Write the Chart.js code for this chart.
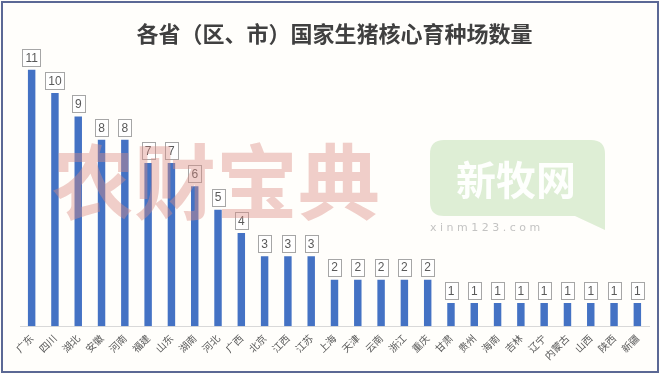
<!DOCTYPE html>
<html>
<head>
<meta charset="utf-8">
<script src="https://cdn.jsdelivr.net/npm/chart.js@4/dist/chart.umd.min.js"></script>
<style>
  html, body { margin: 0; padding: 0; background: #ffffff; }
  #wrap { width: 660px; height: 374px; }
</style>
</head>
<body>
<div id="wrap"><canvas id="breedingChart" width="660" height="374"></canvas></div>
<script>
/* ---- data ---- */
const provinces = ["广东", "四川", "湖北", "安徽", "河南", "福建", "山东", "湖南", "河北", "广西",
    "北京", "江西", "江苏", "上海", "天津", "云南", "浙江", "重庆", "甘肃", "贵州",
    "海南", "吉林", "辽宁", "内蒙古", "山西", "陕西", "新疆"];
const farmCounts = [11, 10, 9, 8, 8, 7, 7, 6, 5, 4, 3, 3, 3, 2, 2, 2, 2, 2, 1, 1, 1, 1, 1, 1, 1, 1, 1];
const chartTitle = "各省（区、市）国家生猪核心育种场数量";

const CJK = "'Noto Sans CJK SC', 'Noto Sans', sans-serif";

// frame + light background behind everything
const framePlugin = {
    id: "frame",
    beforeDraw(chart) {
        const ctx = chart.ctx;
        ctx.save();
        ctx.fillStyle = "#fffefb";
        ctx.fillRect(0, 0, chart.width, chart.height);
        ctx.restore();
    },
    afterDraw(chart) {
        const ctx = chart.ctx;
        ctx.save();
        ctx.strokeStyle = "#5b6895";
        ctx.lineWidth = 2;
        ctx.strokeRect(2, 2, chart.width - 4, chart.height - 4);
        ctx.restore();
    }
};

// boxed value labels above each bar
const boxedLabels = {
    id: "boxedLabels",
    afterDatasetsDraw(chart) {
        const ctx = chart.ctx;
        const meta = chart.getDatasetMeta(0);
        ctx.save();
        ctx.font = "12px 'Liberation Sans', Arial, sans-serif";
        ctx.textAlign = "center";
        ctx.textBaseline = "middle";
        meta.data.forEach((bar, i) => {
            const txt = String(farmCounts[i]);
            const w = ctx.measureText(txt).width + 6;
            const h = 17;
            const x = bar.x;
            const bottom = bar.y - 4;
            ctx.fillStyle = "#ffffff";
            ctx.fillRect(x - w / 2, bottom - h, w, h);
            ctx.strokeStyle = "#a6a6a6";
            ctx.lineWidth = 1;
            ctx.strokeRect(Math.round(x - w / 2) + 0.5, Math.round(bottom - h) + 0.5, Math.round(w), h);
            ctx.fillStyle = "#595959";
            ctx.fillText(txt, x, bottom - h / 2 + 1);
        });
        ctx.restore();
    }
};

// the two watermarks that sit over the plot
const watermarks = {
    id: "watermarks",
    afterDatasetsDraw(chart) {
        const ctx = chart.ctx;
        ctx.save();
        // 农财宝典
        ctx.font = "bold 82px " + CJK;
        ctx.textAlign = "left";
        ctx.textBaseline = "middle";
        ctx.fillStyle = "rgba(220, 140, 130, 0.42)";
        ctx.fillText("农财宝典", 52, 182);

        // 新牧网 bubble
        ctx.fillStyle = "rgba(200, 226, 188, 0.6)";
        const x0 = 430, y0 = 140, x1 = 605, y1 = 216, r = 14;
        ctx.beginPath();
        ctx.moveTo(x0 + r, y0);
        ctx.lineTo(x1 - r, y0);
        ctx.quadraticCurveTo(x1, y0, x1, y0 + r);
        ctx.lineTo(x1, 230);
        ctx.lineTo(575, y1);
        ctx.lineTo(x0 + r, y1);
        ctx.quadraticCurveTo(x0, y1, x0, y1 - r);
        ctx.lineTo(x0, y0 + r);
        ctx.quadraticCurveTo(x0, y0, x0 + r, y0);
        ctx.closePath();
        ctx.fill();

        ctx.fillStyle = "rgba(255, 255, 255, 0.95)";
        ctx.font = "bold 40px " + CJK;
        ctx.textAlign = "center";
        ctx.fillText("新牧网", 516, 180);

        ctx.fillStyle = "rgba(180, 180, 180, 0.8)";
        ctx.font = "11px 'DejaVu Sans', sans-serif";
        ctx.textAlign = "left";
        ctx.fillText("x i n m 1 2 3 . c o m", 430, 228);
        ctx.restore();
    }
};

const chart = new Chart(document.getElementById("breedingChart"), {
    type: "bar",
    data: {
        labels: provinces,
        datasets: [{
            data: farmCounts,
            backgroundColor: "#4472c4",
            barPercentage: 0.32,
            categoryPercentage: 1.0
        }]
    },
    options: {
        responsive: false,
        animation: false,
        layout: { padding: { left: 20, right: 11, top: 0, bottom: 6 } },
        scales: {
            x: {
                grid: { display: false, drawTicks: false },
                border: { display: true, color: "#d9d9d9" },
                ticks: {
                    font: { family: CJK, size: 10 },
                    color: "#595959",
                    minRotation: 45,
                    maxRotation: 45,
                    padding: 6,
                    autoSkip: false
                }
            },
            y: {
                display: false,
                min: 0,
                max: 12
            }
        },
        plugins: {
            legend: { display: false },
            tooltip: { enabled: false },
            title: {
                display: true,
                text: chartTitle,
                color: "#404040",
                font: { family: CJK, size: 22, weight: "bold" },
                padding: { top: 20, bottom: 0 }
            }
        }
    },
    plugins: [framePlugin, boxedLabels, watermarks]
});
</script>
</body>
</html>
